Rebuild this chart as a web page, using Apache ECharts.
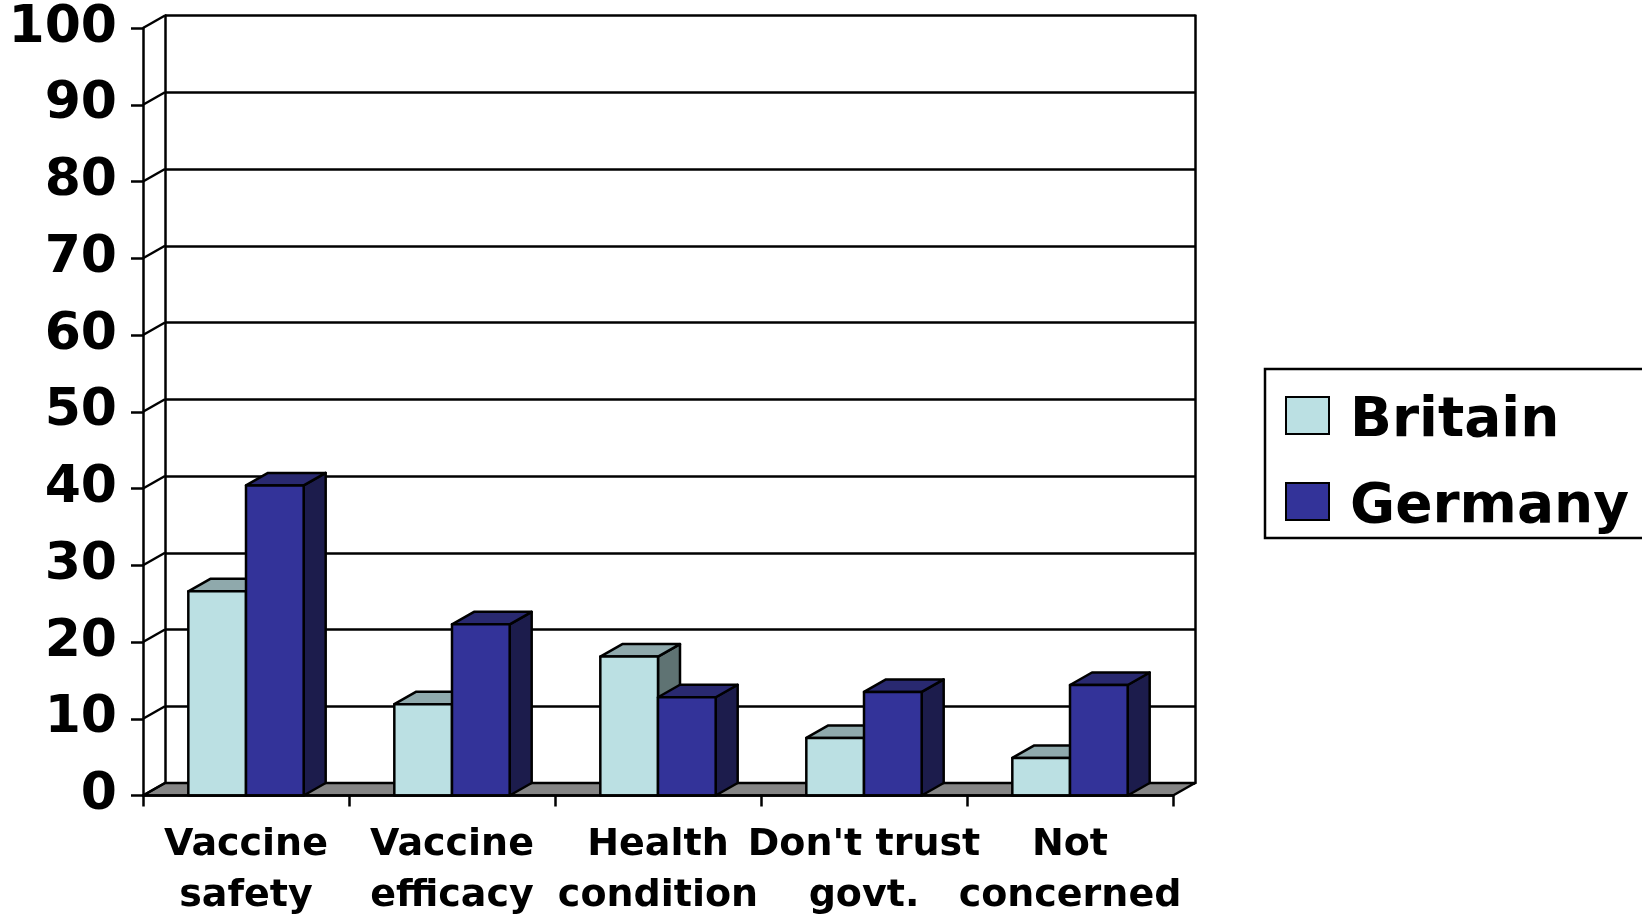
<!DOCTYPE html>
<html>
<head>
<meta charset="utf-8">
<title>Concerns about vaccination: Britain vs Germany</title>
<script src="https://cdn.jsdelivr.net/npm/echarts@6/dist/echarts.min.js"></script>
<style>
  html, body { margin: 0; padding: 0; background: #ffffff; }
  #chart { width: 1642px; height: 914px; }
</style>
</head>
<body>
<div id="chart"></div>
<script>
// Reasons given, and share of respondents (%) per country
const categories = ['Vaccine\nsafety', 'Vaccine\nefficacy', 'Health\ncondition', "Don't trust\ngovt.", 'Not\nconcerned'];
const britain = [26.6, 11.9, 18.1, 7.5, 4.9];
const germany = [40.4, 22.3, 12.8, 13.5, 14.4];
const yTicks = [0, 10, 20, 30, 40, 50, 60, 70, 80, 90, 100];

// 3-D look: depth offset of the back wall and bar sides
const DX = 22;
const DY = -12.5;
const BAR_RATIO = 0.28;
const FONT = 'DejaVu Sans';
const LINE = '#000000';
const LW = 2.5;

const chart = echarts.init(document.getElementById('chart'), null, { renderer: 'canvas' });

function barRenderer(colors, slot) {
  return function (params, api) {
    const i = api.value(0);
    const v = api.value(1);
    const base = api.coord([i, 0]);
    const top = api.coord([i, v]);
    const bw = api.size([1, 0])[0] * BAR_RATIO;
    const x0 = base[0] + slot * bw;
    const x1 = x0 + bw;
    const yb = base[1];
    const yt = top[1];
    const stroke = { stroke: LINE, lineWidth: LW, lineJoin: 'round' };
    return {
      type: 'group',
      children: [
        { type: 'polygon', shape: { points: [[x1, yt], [x1 + DX, yt + DY], [x1 + DX, yb + DY], [x1, yb]] },
          style: Object.assign({ fill: colors.side }, stroke) },
        { type: 'polygon', shape: { points: [[x0, yt], [x1, yt], [x1 + DX, yt + DY], [x0 + DX, yt + DY]] },
          style: Object.assign({ fill: colors.top }, stroke) },
        { type: 'rect', shape: { x: x0, y: yt, width: bw, height: yb - yt },
          style: Object.assign({ fill: colors.front }, stroke) }
      ]
    };
  };
}

// Floor slab and the wall-to-axis connectors at every tick
function frameRenderer(params, api) {
  const v = api.value(1);
  const y = api.coord([0, v])[1];
  const cs = params.coordSys;
  const left = cs.x;
  const right = cs.x + cs.width;
  const children = [];
  if (v === 0) {
    children.push({
      type: 'polygon',
      shape: { points: [[left, y], [right, y], [right + DX, y + DY], [left + DX, y + DY]] },
      style: { fill: '#858585', stroke: LINE, lineWidth: LW, lineJoin: 'round' }
    });
  }
  children.push({
    type: 'line',
    shape: { x1: left, y1: y, x2: left + DX, y2: y + DY },
    style: { stroke: LINE, lineWidth: LW }
  });
  return { type: 'group', children: children };
}

const britainColors = { front: '#bbe0e3', top: '#8fa9ac', side: '#5f7373' };
const germanyColors = { front: '#333399', top: '#292970', side: '#1c1c4c' };

const option = {
  backgroundColor: '#ffffff',
  animation: false,
  legend: {
    orient: 'vertical',
    left: 1265,
    top: 369,
    padding: [13, 320, 3, 20],
    itemGap: 19,
    itemWidth: 43,
    itemHeight: 37,
    borderColor: LINE,
    borderWidth: LW,
    backgroundColor: '#ffffff',
    icon: 'rect',
    selectedMode: false,
    formatter: '{t|{name}}',
    textStyle: {
      fontFamily: FONT, fontWeight: 'bold', fontSize: 55, color: '#000000',
      rich: {
        t: {
          fontFamily: FONT, fontWeight: 'bold', fontSize: 55, lineHeight: 60,
          color: '#000000', padding: [12, 0, 0, 16]
        }
      }
    },
    data: [
      { name: 'Britain', itemStyle: { color: britainColors.front, borderColor: LINE, borderWidth: 2 } },
      { name: 'Germany', itemStyle: { color: germanyColors.front, borderColor: LINE, borderWidth: 2 } }
    ]
  },
  grid: [
    // front plane (axes, bars)
    { left: 143, right: 469, top: 28, bottom: 118.5, containLabel: false, outerBoundsMode: 'none' },
    // back wall (gridlines)
    { left: 143 + DX, right: 469 - DX, top: 28 + DY, bottom: 118.5 - DY, containLabel: false, outerBoundsMode: 'none' }
  ],
  xAxis: [
    {
      gridIndex: 0,
      type: 'category',
      data: categories,
      boundaryGap: true,
      axisLine: { show: true, lineStyle: { color: LINE, width: LW } },
      axisTick: { show: true, length: 11, interval: 0, lineStyle: { color: LINE, width: LW } },
      axisLabel: {
        interval: 0, margin: 24, color: '#000000',
        fontFamily: FONT, fontWeight: 'bold', fontSize: 38, lineHeight: 51
      },
      splitLine: { show: false },
      z: 5
    },
    { gridIndex: 1, type: 'value', min: 0, max: 1, show: false }
  ],
  yAxis: [
    {
      gridIndex: 0,
      type: 'value',
      min: 0, max: 100, interval: 10,
      axisLine: { show: true, lineStyle: { color: LINE, width: LW } },
      axisTick: { show: true, length: 12, lineStyle: { color: LINE, width: LW } },
      axisLabel: {
        margin: 26, color: '#000000', padding: [11, 0, 0, 0],
        fontFamily: FONT, fontWeight: 'bold', fontSize: 52
      },
      splitLine: { show: false }
    },
    {
      gridIndex: 1,
      type: 'value',
      min: 0, max: 100, interval: 10,
      position: 'left',
      axisLine: { show: true, onZero: false, lineStyle: { color: LINE, width: LW } },
      axisTick: { show: false },
      axisLabel: { show: false },
      splitLine: { show: true, lineStyle: { color: LINE, width: LW } }
    },
    {
      gridIndex: 1,
      type: 'value',
      min: 0, max: 100, interval: 10,
      position: 'right',
      axisLine: { show: true, onZero: false, lineStyle: { color: LINE, width: LW } },
      axisTick: { show: false },
      axisLabel: { show: false },
      splitLine: { show: false }
    }
  ],
  series: [
    {
      name: 'frame',
      type: 'custom',
      xAxisIndex: 0, yAxisIndex: 0,
      z: 1,
      silent: true,
      data: yTicks.map(t => [0, t]),
      renderItem: frameRenderer
    },
    {
      name: 'Britain',
      type: 'custom',
      xAxisIndex: 0, yAxisIndex: 0,
      z: 3,
      itemStyle: { color: britainColors.front },
      encode: { x: 0, y: 1 },
      data: categories.map((c, i) => [i, britain[i]]),
      renderItem: barRenderer(britainColors, -1)
    },
    {
      name: 'Germany',
      type: 'custom',
      xAxisIndex: 0, yAxisIndex: 0,
      z: 4,
      itemStyle: { color: germanyColors.front },
      encode: { x: 0, y: 1 },
      data: categories.map((c, i) => [i, germany[i]]),
      renderItem: barRenderer(germanyColors, 0)
    }
  ]
};

chart.setOption(option);
</script>
</body>
</html>
